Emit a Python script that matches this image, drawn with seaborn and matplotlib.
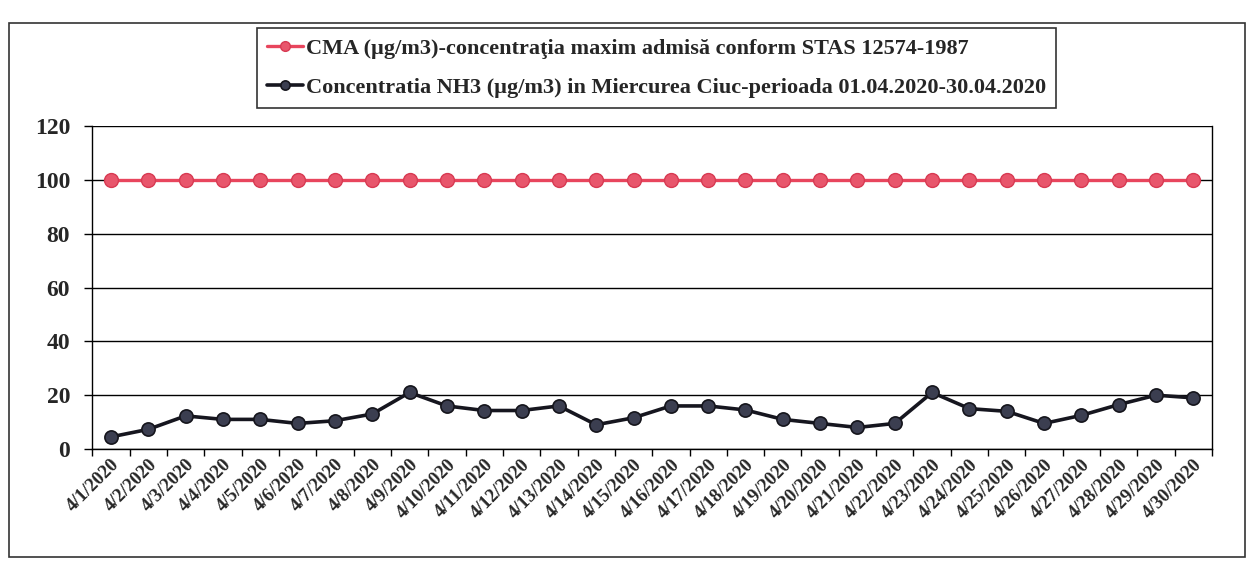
import pandas as pd
import matplotlib
matplotlib.use("Agg")
import matplotlib.pyplot as plt
import seaborn as sns
from matplotlib.patches import Rectangle
from matplotlib.ticker import FixedLocator

dates = ["4/%d/2020" % d for d in range(1, 31)]
cma = [100] * 30
nh3 = [4.5, 7.3, 12.3, 11, 11, 9.5, 10.5, 13, 21, 16,
       14.3, 14.3, 16, 9, 11.6, 16, 16, 14.5, 11, 9.5,
       8, 9.5, 21, 15, 14, 9.5, 12.5, 16.5, 20, 19]

label_cma = "CMA (\u00b5g/m3)-concentra\u0163ia maxim admis\u0103 conform STAS 12574-1987"
label_nh3 = "Concentratia NH3 (\u00b5g/m3) in Miercurea Ciuc-perioada 01.04.2020-30.04.2020"

df = pd.DataFrame({"data": dates, "cma": cma, "nh3": nh3})

sns.set_style("white")
plt.rcParams['font.family'] = ['Liberation Serif', 'DejaVu Serif']
plt.rcParams['font.weight'] = 'bold'

fig = plt.figure(figsize=(12.56, 5.63), dpi=100)
ax = fig.add_axes([0.0735, 0.2025, 0.8915, 0.5735])

sns.lineplot(data=df, x="data", y="cma", ax=ax, color="#e8455d", linewidth=2.4,
             marker="o", markersize=10, markerfacecolor="#e8566c",
             markeredgecolor="#d83a52", markeredgewidth=1, label=label_cma, sort=False)
sns.lineplot(data=df, x="data", y="nh3", ax=ax, color="#16161f", linewidth=2.6,
             marker="o", markersize=9.5, markerfacecolor="#3b3e50",
             markeredgecolor="#15151c", markeredgewidth=1.2, label=label_nh3, sort=False)

ax.set_xlim(-0.5, len(dates) - 0.5)
ax.set_ylim(0, 120)
ax.set_yticks(range(0, 121, 20))
ax.yaxis.grid(True, color="black", linewidth=1)
ax.set_axisbelow(True)
ax.set_xlabel("")
ax.set_ylabel("")

for s in ["left", "bottom", "right"]:
    ax.spines[s].set_visible(True)
    ax.spines[s].set_color("black")
    ax.spines[s].set_linewidth(1)
ax.spines["top"].set_visible(False)

ax.xaxis.set_minor_locator(FixedLocator([i - 0.5 for i in range(len(dates) + 1)]))
ax.tick_params(axis="x", which="major", length=0, pad=5)
ax.tick_params(axis="x", which="minor", length=5, width=1, direction="out", color="black", bottom=True)
ax.tick_params(axis="y", length=6, width=1, direction="out", color="black", left=True,
               labelsize=17, pad=10)
plt.xticks(rotation=45, ha="right", rotation_mode="anchor", fontsize=13.5, fontweight="bold")
for t in ax.get_yticklabels():
    t.set_fontweight("bold")

ax.get_legend().remove()
h, l = ax.get_legend_handles_labels()
leg = fig.legend(h, l, loc="upper center", bbox_to_anchor=(0.523, 0.97), ncol=1,
                 frameon=True, fancybox=False, edgecolor="black", fontsize=16,
                 handlelength=1.6, handletextpad=0.15, borderpad=0.45, labelspacing=0.85,
                 markerscale=0.7)
leg.get_frame().set_linewidth(1.2)

fig.patches.append(Rectangle((0.007, 0.01), 0.984, 0.95, transform=fig.transFigure,
                             fill=False, edgecolor="#333333", linewidth=1.2))

plt.savefig("out.png", dpi=100)
